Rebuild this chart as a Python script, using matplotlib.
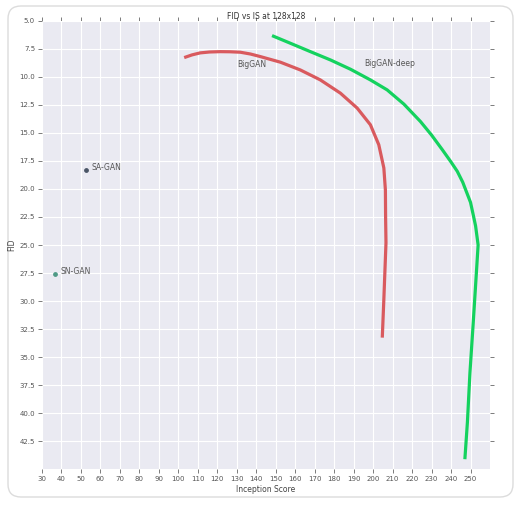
import matplotlib
matplotlib.use("Agg")
import matplotlib.pyplot as plt
from matplotlib.patches import FancyBboxPatch
import numpy as np

# Data
biggan_is = [103.0, 107.0, 111.2, 116.0, 121.5, 126.5, 131.8, 137.0, 142.1, 152.4, 162.6,
             172.9, 183.2, 191.8, 198.6, 202.9, 205.5, 206.3, 206.4, 206.6, 205.5, 204.7]
biggan_fid = [8.29, 8.05, 7.87, 7.79, 7.76, 7.77, 7.81, 7.97, 8.2, 8.70, 9.39,
              10.28, 11.46, 12.79, 14.28, 16.06, 18.13, 20.1, 22.5, 24.8, 29.85, 33.26]

deep_is = [148.1, 157.5, 167.8, 178.1, 188.4, 198.6, 207.2, 215.8, 224.3, 230.0, 235.5,
           240.0, 243.2, 246.0, 248.0, 250.0, 251.5, 252.6, 253.9, 253.0, 251.4, 249.7,
           248.4, 247.1]
deep_fid = [6.33, 7.01, 7.76, 8.5, 9.33, 10.28, 11.17, 12.44, 13.99, 15.2, 16.5,
            17.6, 18.43, 19.4, 20.3, 21.2, 22.4, 23.3, 25.0, 27.5, 31.9, 36.4,
            40.8, 44.1]

sagan = (52.5, 18.3)
sngan = (36.7, 27.6)

xticks = list(range(30, 251, 10))
yticks = [5.0 + 2.5 * i for i in range(16)]

fig = plt.figure(figsize=(5.23, 5.07), dpi=100)
fig.patch.set_facecolor("white")

card = FancyBboxPatch((8 / 523, 1 - 497 / 507), (513 - 8) / 523, (497 - 6) / 507,
                      boxstyle="round,pad=0,rounding_size=0.025",
                      transform=fig.transFigure, facecolor="none",
                      edgecolor="#dcdcdc", linewidth=1.0, zorder=-1)
fig.patches.append(card)

ax = fig.add_axes([42 / 523, 1 - 469.3 / 507, (490 - 42) / 523, (469.3 - 20.7) / 507])
ax.set_facecolor("#eaeaf2")
for s in ax.spines.values():
    s.set_visible(False)
ax.grid(True, color="white", linewidth=0.8)
ax.set_axisbelow(True)

ax.plot(biggan_is, biggan_fid, color="#d95a5e", linewidth=2.3, solid_capstyle="butt",
        solid_joinstyle="round")
ax.plot(deep_is, deep_fid, color="#14d25e", linewidth=2.3, solid_capstyle="butt",
        solid_joinstyle="round")
ax.scatter([sagan[0]], [sagan[1]], s=6, color="#4a5566", zorder=3)
ax.scatter([sngan[0]], [sngan[1]], s=6, color="#4f9a86", zorder=3)

ax.text(130, 8.9, "BigGAN", fontsize=5.5, color="#555555", va="center")
ax.text(195.6, 8.8, "BigGAN-deep", fontsize=5.5, color="#555555", va="center")
ax.text(55.2, 18.1, "SA-GAN", fontsize=5.5, color="#555555", va="center")
ax.text(39.3, 27.4, "SN-GAN", fontsize=5.5, color="#555555", va="center")

ax.set_xlim(30, 260)
ax.set_ylim(45, 5)
ax.set_xticks(xticks)
ax.set_yticks(yticks)
ax.set_yticklabels([f"{v:.1f}" for v in yticks])
ax.tick_params(axis="both", which="both", direction="out", length=3, width=0.6,
               color="#666666", labelsize=5, labelcolor="#555555", pad=2,
               top=True, right=True, labeltop=False, labelright=False)

ax.set_title("FID vs IS at 128x128", fontsize=5.5, color="#333333", pad=1)
ax.set_xlabel("Inception Score", fontsize=5.5, color="#444444", labelpad=2)
ax.set_ylabel("FID", fontsize=5.5, color="#444444", labelpad=2)

fig.savefig("out.png", dpi=100)
